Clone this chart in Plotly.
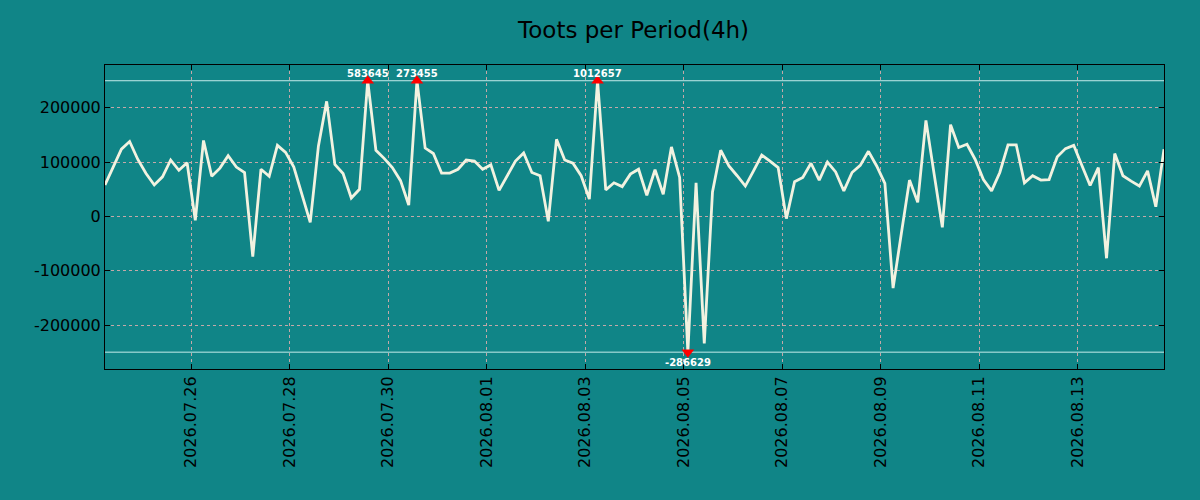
import numpy as np
import pandas as pd
import plotly.graph_objects as go

# toots per 4h period, bins plotted at their centre
start = "2026-07-24 06:00"
toots = [
    58000, 92000, 124000, 138000, 105000, 79000, 58000, 73000, 104000, 85000,
    99000, -7000, 140000, 74000, 89000, 112000, 91000, 81000, -74000, 87000,
    74000, 131000, 118000, 91000, 38000, -11000, 130000, 212000, 96000, 79000,
    34000, 50000, 583645, 122000, 107000, 90000, 66000, 21000, 273455, 126000,
    116000, 80000, 80000, 87000, 104000, 102000, 87000, 95000, 48000, 76000,
    102000, 117000, 81000, 75000, -9000, 142000, 104000, 98000, 75000, 32000,
    1012657, 49000, 62000, 55000, 78000, 87000, 39000, 86000, 41000, 128000,
    72000, -286629, 62000, -234000, 45000, 122000, 93000, 75000, 56000, 84000,
    113000, 102000, 90000, -4000, 64000, 72000, 98000, 67000, 100000, 82000,
    47000, 81000, 94000, 120000, 93000, 61000, -132000, -32000, 67000, 26000,
    177000, 78000, -20000, 169000, 127000, 133000, 105000, 68000, 47000, 81000,
    132000, 132000, 62000, 75000, 67000, 68000, 110000, 125000, 131000, 94000,
    57000, 90000, -77000, 116000, 75000, 65000, 56000, 84000, 18000, 124000,
]
limit = 250000
y_ticks = [-200000, -100000, 0, 100000, 200000]
y_ticktext = ["-200000", "-100000", "0", "100000", "200000"]

times = pd.date_range(start, periods=len(toots), freq="4h")
vals = np.array(toots)
clipped = np.clip(vals, -limit, limit)
hi = vals > limit
lo = vals < -limit

bg = "#108587"

fig = go.Figure()
fig.add_trace(go.Scatter(x=times, y=clipped, mode="lines",
                         line=dict(color="#f2f2e0", width=2.8),
                         hoverinfo="skip"))
fig.add_trace(go.Scatter(x=times[hi], y=clipped[hi], mode="markers",
                         marker=dict(symbol="triangle-up", size=11, color="red")))
fig.add_trace(go.Scatter(x=times[lo], y=clipped[lo], mode="markers",
                         marker=dict(symbol="triangle-down", size=11, color="red")))

for lvl in (limit, -limit):
    fig.add_hline(y=lvl, line=dict(color="#c4ecea", width=1), layer="below")

for t, v, c in zip(times, vals, clipped):
    if v == c:
        continue
    fig.add_annotation(x=t, y=c, text=str(v), showarrow=False,
                       yshift=7 if v > 0 else -10,
                       font=dict(family="DejaVu Sans", size=10, color="white",
                                 weight="bold"))

axis = dict(showline=True, linecolor="black", linewidth=1, mirror="ticks",
            ticks="inside", ticklen=5, tickcolor="black",
            showgrid=True, gridcolor="#c4a8a8", griddash="dot", gridwidth=1,
            zeroline=False)

fig.update_layout(
    width=1200, height=500,
    paper_bgcolor=bg, plot_bgcolor=bg,
    showlegend=False,
    font=dict(family="DejaVu Sans", color="black"),
    title=dict(text="Toots per Period(4h)", x=0.528, xanchor="center",
               y=0.94, yanchor="middle", font=dict(size=23, color="black")),
    margin=dict(l=105, r=36, t=65, b=131),
    xaxis=dict(axis, range=[times[0], times[-1]], tickformat="%Y.%m.%d",
               tick0="2026-07-26", dtick=2 * 86400000, tickangle=-90,
               tickfont=dict(size=16)),
    yaxis=dict(axis, range=[-281000, 279000], tickvals=y_ticks,
               ticktext=y_ticktext, tickfont=dict(size=16)),
)

fig.write_html("out.html", config={"displayModeBar": False},
               post_script="document.body.style.margin='0';")
